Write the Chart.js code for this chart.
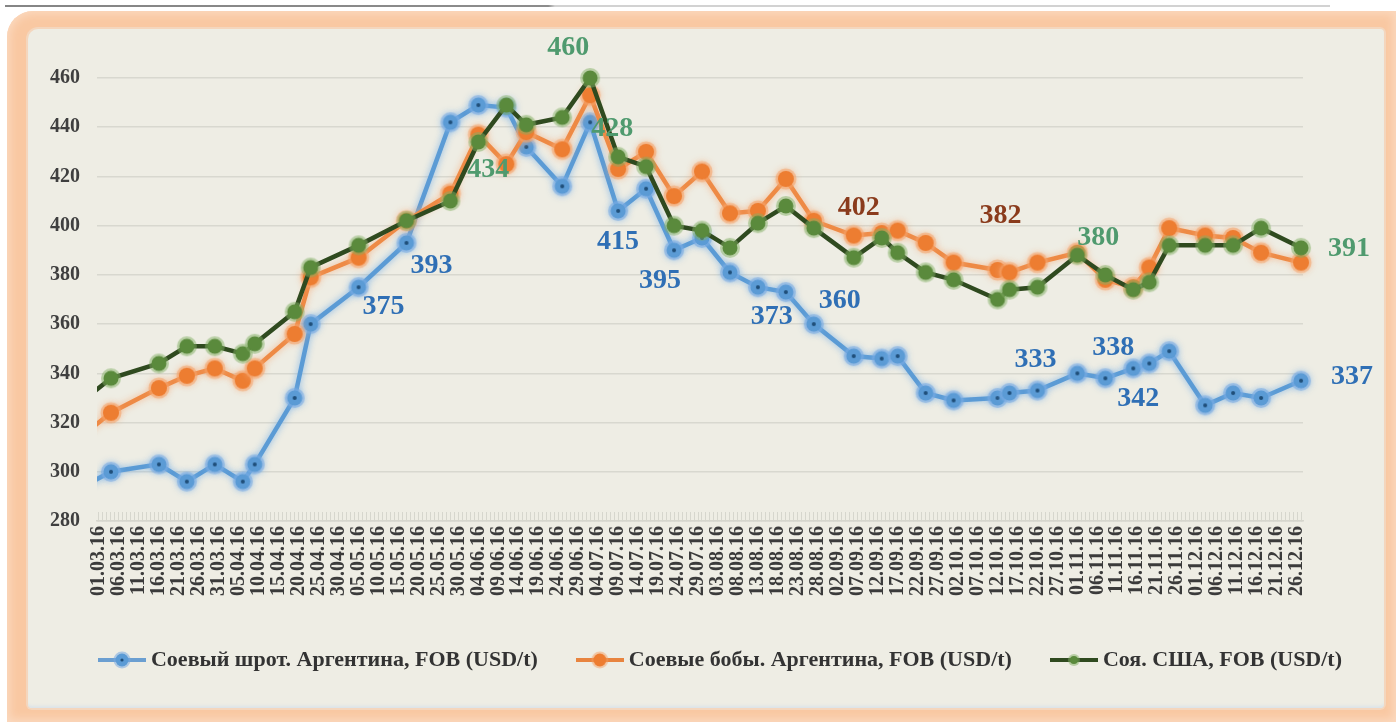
<!DOCTYPE html>
<html lang="ru">
<head>
<meta charset="utf-8">
<title>Соевый шрот, соевые бобы и соя: цены FOB, 2016</title>
<script src="https://cdn.jsdelivr.net/npm/chart.js@4.4.1/dist/chart.umd.min.js"></script>
<style>
  html, body { margin: 0; padding: 0; background: #fff; }
  body { width: 1396px; height: 722px; position: relative; overflow: hidden; }
  .rule { position: absolute; left: 5px; top: 5px; width: 1325px; height: 2px;
          background: linear-gradient(to right, #858585 0, #8c8c8c 41%, #d2d2d2 41.5%, #d2d2d2 100%); }
  .frame { position: absolute; left: 7px; top: 11px; width: 1389px; height: 711px;
           background: #f9c8a2; border-radius: 26px 0 0 0;
           box-shadow: inset 0 0 8px 3px #fbd9bf; }
  .panel { position: absolute; left: 28px; top: 29px; width: 1356px; height: 679px;
           background: #eeede4; border-radius: 10px 4px 4px 4px;
           box-shadow: 0 0 0 2px #f4d6bd, inset 0 -4px 3px -2px #dbe3e8; }
  #chart { position: absolute; left: 0; top: 0; }
</style>
</head>
<body>
<div class="rule"></div>
<div class="frame"></div>
<div class="panel"></div>
<canvas id="chart" width="1396" height="722"></canvas>
<script>
// даты котировок (2016), первая точка - до начала оси, линия входит слева
const dates = ['26.02','04.03','16.03','23.03','30.03','06.04','09.04','19.04','23.04','05.05',
  '17.05','28.05','04.06','11.06','16.06','25.06','02.07','09.07','16.07','23.07',
  '30.07','06.08','13.08','20.08','27.08','06.09','13.09','17.09','24.09','01.10',
  '12.10','15.10','22.10','01.11','08.11','15.11','19.11','24.11','03.12','10.12',
  '17.12','27.12'];

const mealArg = [294,300,303,296,303,296,303,330,360,375,
  393,442,449,448,432,416,442,406,415,390,
  395,381,375,373,360,347,346,347,332,329,
  330,332,333,340,338,342,344,349,327,332,
  330,337];

const beansArg = [315,324,334,339,342,337,342,356,379,387,
  402,413,437,425,438,431,453,423,430,412,
  422,405,406,419,402,396,397,398,393,385,
  382,381,385,389,378,375,383,399,396,395,
  389,385];

const soyUSA = [329,338,344,351,351,348,352,365,383,392,
  402,410,434,449,441,444,460,428,424,400,
  398,391,401,408,399,387,395,389,381,378,
  370,374,375,388,380,374,377,392,392,392,
  399,391];

const seriesNames = [
  'Соевый шрот. Аргентина, FOB (USD/t)',
  'Соевые бобы. Аргентина, FOB (USD/t)',
  'Соя. США, FOB (USD/t)'
];

const axisStart = '01.03';
const axisEnd = '27.12';
const yMin = 280, yMax = 460, yStep = 20;
const labelEvery = 5;

// подписи значений: ряд, дата, смещение от точки
const callouts = [
  { s: 0, date: '05.05', dx: 25, dy: 20 },
  { s: 0, date: '17.05', dx: 25, dy: 23 },
  { s: 0, date: '16.07', dx: -28, dy: 53 },
  { s: 0, date: '30.07', dx: -42, dy: 43 },
  { s: 0, date: '20.08', dx: -14, dy: 25 },
  { s: 0, date: '27.08', dx: 26, dy: -23 },
  { s: 0, date: '22.10', dx: -2, dy: -31 },
  { s: 0, date: '08.11', dx: 8, dy: -30 },
  { s: 0, date: '15.11', dx: 5, dy: 30 },
  { s: 0, date: '27.12', dx: 51, dy: -4 },
  { s: 1, date: '27.08', dx: 45, dy: -13 },
  { s: 1, date: '12.10', dx: 3, dy: -54 },
  { s: 2, date: '02.07', dx: -22, dy: -30 },
  { s: 2, date: '04.06', dx: 10, dy: 28 },
  { s: 2, date: '09.07', dx: -6, dy: -28 },
  { s: 2, date: '08.11', dx: -7, dy: -37 },
  { s: 2, date: '27.12', dx: 48, dy: 1 }
];

const SERIF = '"Liberation Serif", "DejaVu Serif", serif';

function dayIndex(str) {
  const [d, m] = str.split('.').map(Number);
  return Math.round((Date.UTC(2016, m - 1, d) - Date.UTC(2016, 2, 1)) / 86400000);
}

function dayLabel(v) {
  const dt = new Date(Date.UTC(2016, 2, 1 + v));
  const dd = String(dt.getUTCDate()).padStart(2, '0');
  const mm = String(dt.getUTCMonth() + 1).padStart(2, '0');
  return dd + '.' + mm + '.16';
}

function toPoints(values) {
  return dates.map((d, i) => ({ x: dayIndex(d), y: values[i] }));
}

function makeMarker(fill, halo, dot, r) {
  const c = document.createElement('canvas');
  c.width = c.height = 26;
  const g = c.getContext('2d');
  g.fillStyle = halo;
  g.beginPath(); g.arc(13, 13, r + 2.5, 0, Math.PI * 2); g.fill();
  g.fillStyle = fill;
  g.beginPath(); g.arc(13, 13, r, 0, Math.PI * 2); g.fill();
  if (dot) {
    g.fillStyle = dot;
    g.beginPath(); g.arc(13, 13, 2, 0, Math.PI * 2); g.fill();
  }
  return c;
}

function makeLegendIcon(lineColor, fill, halo, dot, r) {
  const c = document.createElement('canvas');
  c.width = 48; c.height = 20;
  const g = c.getContext('2d');
  g.strokeStyle = lineColor; g.lineWidth = 4;
  g.beginPath(); g.moveTo(0, 10); g.lineTo(48, 10); g.stroke();
  g.fillStyle = halo;
  g.beginPath(); g.arc(24, 10, r + 2, 0, Math.PI * 2); g.fill();
  g.fillStyle = fill;
  g.beginPath(); g.arc(24, 10, r, 0, Math.PI * 2); g.fill();
  if (dot) {
    g.fillStyle = dot;
    g.beginPath(); g.arc(24, 10, 1.6, 0, Math.PI * 2); g.fill();
  }
  return c;
}

const markers = [
  makeMarker('#5b9bd5', 'rgba(120,170,225,0.55)', '#1f4e79', 7.5),
  makeMarker('#ed7d31', 'rgba(245,160,100,0.5)', null, 8),
  makeMarker('#5a8a3c', 'rgba(130,175,100,0.5)', null, 7.5)
];
const legendIcons = [
  makeLegendIcon('#6b9fd1', '#5b9bd5', 'rgba(120,170,225,0.55)', '#1f4e79', 6.5),
  makeLegendIcon('#e8843f', '#ed7d31', 'rgba(245,160,100,0.5)', null, 6.5),
  makeLegendIcon('#2f4a1f', '#5a8a3c', 'rgba(130,175,100,0.5)', null, 4)
];
const labelColors = ['#2f6fb5', '#8a3b1c', '#4f9a6e'];

const glowPlugin = {
  id: 'glow',
  beforeDatasetDraw(chart, args) {
    const glow = chart.data.datasets[args.index].glow;
    if (!glow) return;
    chart.ctx.save();
    chart.ctx.shadowColor = glow;
    chart.ctx.shadowBlur = 7;
  },
  afterDatasetDraw(chart, args) {
    if (chart.data.datasets[args.index].glow) chart.ctx.restore();
  }
};

const calloutPlugin = {
  id: 'callouts',
  afterDatasetsDraw(chart) {
    const ctx = chart.ctx;
    ctx.save();
    ctx.font = 'bold 28px ' + SERIF;
    ctx.textAlign = 'center';
    ctx.textBaseline = 'middle';
    callouts.forEach(c => {
      const idx = dates.indexOf(c.date);
      const pt = chart.getDatasetMeta(c.s).data[idx];
      if (!pt) return;
      ctx.fillStyle = labelColors[c.s];
      ctx.fillText(String(chart.data.datasets[c.s].data[idx].y), pt.x + c.dx, pt.y + c.dy);
    });
    ctx.restore();
  }
};

const lineDefaults = {
  fill: false,
  tension: 0,
  pointRadius: 9,
  pointHoverRadius: 9,
  clip: { left: 0, top: 30, right: 30, bottom: 30 }
};

new Chart(document.getElementById('chart'), {
  type: 'line',
  data: {
    datasets: [
      Object.assign({}, lineDefaults, {
        label: seriesNames[0], data: toPoints(mealArg),
        borderColor: '#5b9bd5', borderWidth: 4.5, pointStyle: markers[0],
        glow: 'rgba(120,175,230,0.9)', order: 3
      }),
      Object.assign({}, lineDefaults, {
        label: seriesNames[1], data: toPoints(beansArg),
        borderColor: '#ee8a45', borderWidth: 4.5, pointStyle: markers[1],
        glow: 'rgba(245,170,120,0.8)', order: 2
      }),
      Object.assign({}, lineDefaults, {
        label: seriesNames[2], data: toPoints(soyUSA),
        borderColor: '#2f4a1f', borderWidth: 4.5, pointStyle: markers[2],
        order: 1
      })
    ]
  },
  options: {
    responsive: false,
    animation: false,
    layout: { padding: { left: 50, right: 0, top: 78, bottom: 41 } },
    plugins: {
      tooltip: { enabled: false },
      legend: {
        position: 'bottom',
        labels: {
          usePointStyle: true,
          pointStyleWidth: 36,
          padding: 44,
          color: '#333',
          font: { family: SERIF, size: 22, weight: 'bold' },
          sort: (a, b) => a.datasetIndex - b.datasetIndex,
          generateLabels(chart) {
            const items = Chart.defaults.plugins.legend.labels.generateLabels(chart);
            items.forEach(it => { it.pointStyle = legendIcons[it.datasetIndex]; });
            return items;
          }
        }
      }
    },
    scales: {
      x: {
        type: 'linear',
        min: dayIndex(axisStart) - 0.5,
        max: dayIndex(axisEnd) + 0.5,
        afterBuildTicks(scale) {
          const t = [];
          for (let v = dayIndex(axisStart); v <= dayIndex(axisEnd); v++) t.push({ value: v });
          scale.ticks = t;
        },
        afterFit(scale) { scale.height = 84; },
        grid: { drawOnChartArea: false, drawTicks: true, tickLength: -9, color: '#d6d6cd', lineWidth: 1 },
        border: { color: '#d6d6cd', width: 1.5 },
        ticks: {
          autoSkip: false,
          minRotation: 90,
          maxRotation: 90,
          padding: 14,
          color: '#3b3b3b',
          font: { family: SERIF, size: 20, weight: 'bold' },
          callback: v => (v % labelEvery === 0 ? dayLabel(v) : '')
        }
      },
      y: {
        min: yMin,
        max: yMax,
        afterFit(scale) { scale.width = 47; },
        grid: { color: '#d8d8cf', lineWidth: 1.5, drawTicks: false },
        border: { display: false },
        ticks: {
          stepSize: yStep,
          padding: 17,
          color: '#3f3f3f',
          font: { family: SERIF, size: 20, weight: 'bold' }
        }
      },
      yRight: {
        position: 'right',
        afterFit(scale) { scale.width = 93; },
        grid: { display: false },
        border: { display: false },
        ticks: { display: false }
      }
    }
  },
  plugins: [glowPlugin, calloutPlugin]
});
</script>
</body>
</html>
